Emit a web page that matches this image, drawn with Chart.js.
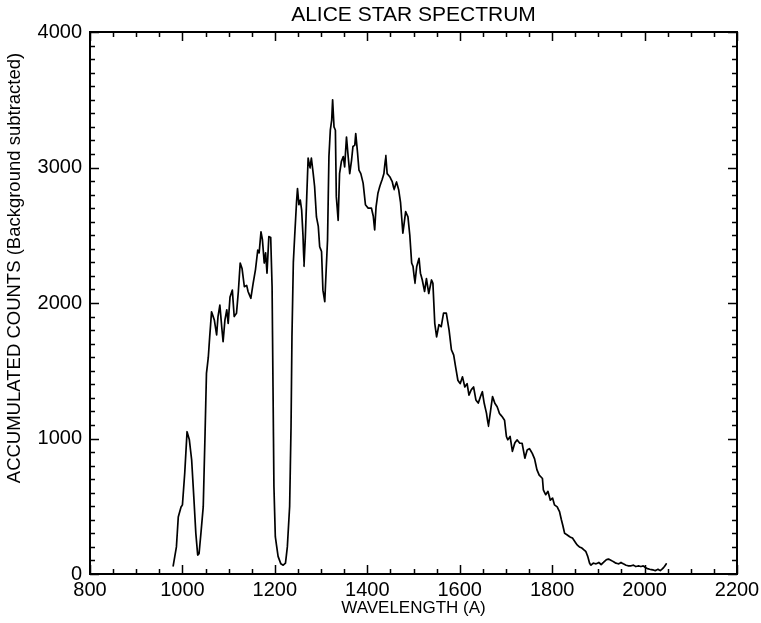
<!DOCTYPE html>
<html>
<head>
<meta charset="utf-8">
<title>ALICE STAR SPECTRUM</title>
<script src="https://cdn.jsdelivr.net/npm/chart.js@4.4.1/dist/chart.umd.min.js"></script>
<style>
  html, body { margin: 0; padding: 0; background: #fff; }
  #wrap { width: 761px; height: 623px; }
</style>
</head>
<body>
<div id="wrap"><canvas id="myChart" width="761" height="623"></canvas></div>
<script>
// wavelength (A) and accumulated counts
const wavelength = [
  980, 987, 991, 997, 1000, 1005, 1010, 1015, 1020, 1025, 1029, 1033, 1036, 1040, 1045, 1049,
  1052, 1056, 1059, 1063, 1069, 1074, 1077, 1081, 1085, 1088, 1092, 1096, 1099, 1103, 1108, 1112,
  1117, 1121, 1125, 1129, 1134, 1139, 1142, 1148, 1153, 1158, 1163, 1166, 1170, 1173, 1177, 1180,
  1183, 1187, 1191, 1194, 1196, 1198, 1201, 1207, 1213, 1218, 1223, 1227, 1232, 1235, 1237, 1240,
  1243, 1247, 1249, 1252, 1255, 1258, 1261, 1263, 1266, 1269, 1272, 1276, 1279, 1283, 1286, 1290,
  1294, 1297, 1301, 1304, 1308, 1311, 1314, 1317, 1320, 1323, 1325, 1328, 1331, 1333, 1337, 1340,
  1344, 1348, 1351, 1355, 1358, 1362, 1366, 1369, 1373, 1375, 1379, 1382, 1386, 1391, 1396, 1402,
  1409, 1413, 1416, 1419, 1423, 1427, 1432, 1436, 1440, 1443, 1449, 1454, 1458, 1463, 1468, 1472,
  1477, 1483, 1488, 1492, 1496, 1499, 1503, 1507, 1512, 1515, 1519, 1524, 1528, 1533, 1539, 1542,
  1546, 1550, 1555, 1560, 1565, 1571, 1577, 1582, 1587, 1591, 1596, 1601, 1606, 1611, 1616, 1620,
  1625, 1630, 1635, 1640, 1645, 1649, 1653, 1658, 1662, 1666, 1671, 1676, 1681, 1686, 1692, 1697,
  1701, 1704, 1709, 1714, 1719, 1724, 1730, 1735, 1741, 1746, 1751, 1757, 1762, 1767, 1772, 1779,
  1781, 1786, 1791, 1796, 1801, 1805, 1811, 1816, 1820, 1823, 1827, 1832, 1838, 1844, 1849, 1854,
  1859, 1865, 1870, 1873, 1877, 1881, 1884, 1889, 1895, 1901, 1906, 1911, 1917, 1922, 1928, 1933,
  1938, 1944, 1949, 1954, 1960, 1965, 1970, 1976, 1981, 1987, 1992, 1997, 2001, 2006, 2011, 2018,
  2023, 2029, 2034, 2039, 2043, 2047
];
const counts = [
  60, 200, 420, 495, 510, 745, 1050, 990, 840, 545, 300, 140, 150, 300, 495, 1040,
  1480, 1600, 1750, 1935, 1875, 1765, 1900, 1985, 1825, 1715, 1875, 1950, 1850, 2045, 2095, 1900,
  1925, 2085, 2295, 2255, 2120, 2130, 2085, 2035, 2145, 2245, 2390, 2370, 2525, 2470, 2295, 2370,
  2220, 2490, 2485, 2120, 1380, 645, 275, 130, 75, 65, 80, 200, 500, 1085, 1750, 2300,
  2500, 2750, 2845, 2725, 2760, 2685, 2490, 2270, 2490, 2785, 3070, 2995, 3070, 2955, 2860, 2635,
  2565, 2415, 2380, 2095, 2010, 2240, 2465, 3080, 3275, 3350, 3500, 3300, 3275, 2785, 2610, 2955,
  3045, 3080, 3005, 3225, 3105, 2955, 3055, 3155, 3165, 3250, 3105, 2980, 2955, 2885, 2725, 2700,
  2700, 2640, 2540, 2710, 2810, 2860, 2910, 2955, 3090, 2955, 2930, 2895, 2835, 2895, 2835, 2740,
  2515, 2675, 2635, 2500, 2295, 2270, 2145, 2270, 2330, 2220, 2170, 2085, 2180, 2070, 2170, 2145,
  1850, 1750, 1840, 1825, 1925, 1925, 1800, 1655, 1615, 1530, 1430, 1405, 1455, 1380, 1405, 1320,
  1360, 1380, 1285, 1260, 1310, 1345, 1260, 1185, 1090, 1185, 1310, 1260, 1235, 1185, 1160, 1135,
  1015, 990, 1015, 905, 965, 990, 965, 965, 855, 915, 925, 890, 850, 770, 730, 705,
  620, 585, 610, 545, 560, 510, 495, 460, 400, 360, 300, 290, 275, 265, 240, 215,
  200, 190, 175, 165, 130, 80, 65, 80, 75, 85, 70, 85, 105, 110, 100, 90,
  80, 75, 85, 75, 65, 60, 60, 65, 55, 60, 55, 60, 50, 40, 35, 30,
  25, 35, 25, 40, 55, 75
];
const xTicks = [800, 1000, 1200, 1400, 1600, 1800, 2000, 2200];
const yTicks = [0, 1000, 2000, 3000, 4000];

const LABEL_FONT = 'Liberation Sans, Arial, Helvetica, sans-serif';

// frame, inward ticks on all four sides, title and the two axis titles
const framePlugin = {
    id: 'frame',
    afterDraw(chart) {
        const ctx = chart.ctx;
        const a = chart.chartArea;
        const xs = chart.scales.x;
        const ys = chart.scales.y;
        const cx = (a.left + a.right) / 2;
        ctx.save();
        ctx.strokeStyle = '#000';
        ctx.lineWidth = 2;
        ctx.strokeRect(a.left, a.top, a.right - a.left, a.bottom - a.top);
        ctx.lineWidth = 1.5;
        ctx.beginPath();
        for (let v = xs.min; v <= xs.max; v += 50) {
            const px = Math.round(xs.getPixelForValue(v)) + 0.5;
            const len = v % 200 === 0 ? 9 : 5;
            ctx.moveTo(px, a.bottom); ctx.lineTo(px, a.bottom - len);
            ctx.moveTo(px, a.top); ctx.lineTo(px, a.top + len);
        }
        for (let v = ys.min; v <= ys.max; v += 100) {
            const py = Math.round(ys.getPixelForValue(v)) + 0.5;
            const len = v % 1000 === 0 ? 9 : 5;
            ctx.moveTo(a.left, py); ctx.lineTo(a.left + len, py);
            ctx.moveTo(a.right, py); ctx.lineTo(a.right - len, py);
        }
        ctx.stroke();

        ctx.fillStyle = '#000';
        ctx.textAlign = 'center';
        ctx.textBaseline = 'middle';
        ctx.font = '21px ' + LABEL_FONT;
        ctx.fillText('ALICE STAR SPECTRUM', cx, 15);
        ctx.font = '17px ' + LABEL_FONT;
        ctx.fillText('WAVELENGTH (A)', cx, 608);
        ctx.translate(15, 268);
        ctx.rotate(-Math.PI / 2);
        ctx.font = '18.5px ' + LABEL_FONT;
        ctx.fillText('ACCUMULATED COUNTS (Background subtracted)', 0, 0);
        ctx.restore();
    }
};

function chart() {
    const ctx = document.getElementById('myChart');
    const points = wavelength.map((w, i) => ({ x: w, y: counts[i] }));
    new Chart(ctx, {
        type: 'line',
        data: {
            datasets: [{
                label: 'Counts',
                data: points,
                borderColor: '#000',
                borderWidth: 1.7,
                borderJoinStyle: 'round',
                borderCapStyle: 'round',
                pointRadius: 0,
                // tiny tension keeps segments straight but avoids the per-pixel fast path
                tension: 0.0001,
                fill: false
            }]
        },
        options: {
            responsive: false,
            animation: false,
            layout: { padding: { left: 0, right: 24, top: 32, bottom: 0 } },
            scales: {
                x: {
                    type: 'linear',
                    min: 800,
                    max: 2200,
                    afterFit: (s) => { s.height = 49; s.paddingLeft = 0; s.paddingRight = 0; },
                    afterBuildTicks: (s) => { s.ticks = xTicks.map(v => ({ value: v })); },
                    grid: { display: false, drawTicks: false },
                    border: { display: false },
                    ticks: {
                        color: '#000',
                        padding: 4,
                        maxRotation: 0,
                        font: { family: LABEL_FONT, size: 20 },
                        callback: (v) => String(v)
                    }
                },
                y: {
                    type: 'linear',
                    min: 0,
                    max: 4000,
                    afterFit: (s) => { s.width = 90; s.paddingTop = 0; s.paddingBottom = 0; },
                    afterBuildTicks: (s) => { s.ticks = yTicks.map(v => ({ value: v })); },
                    grid: { display: false, drawTicks: false },
                    border: { display: false },
                    ticks: {
                        color: '#000',
                        padding: 8,
                        font: { family: LABEL_FONT, size: 20 },
                        callback: (v) => String(v)
                    }
                }
            },
            plugins: {
                legend: { display: false },
                tooltip: { enabled: false },
                title: { display: false }
            }
        },
        plugins: [framePlugin]
    });
}

chart();
</script>
</body>
</html>
